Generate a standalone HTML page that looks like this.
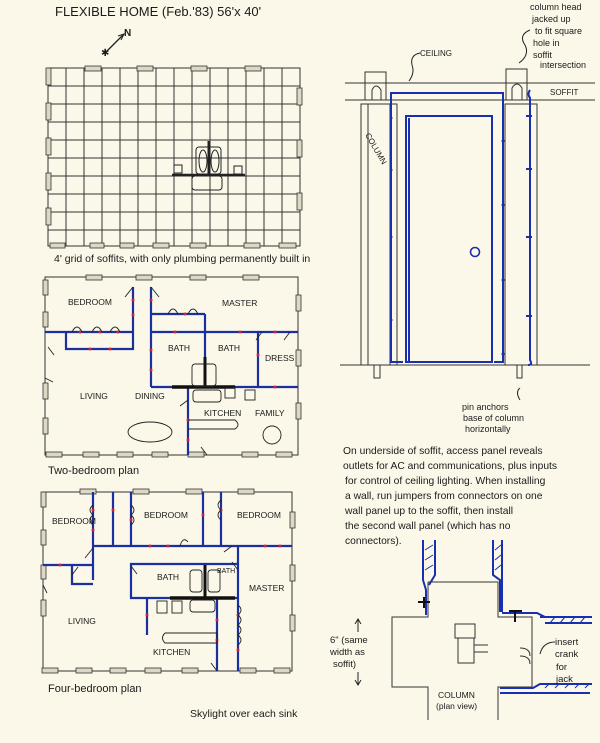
<!DOCTYPE html>
<html><head><meta charset="utf-8"><style>
html,body{margin:0;padding:0;background:#fbf8e9}
svg{display:block}
text{font-family:"Liberation Sans",sans-serif;fill:#1a1a1a}
</style></head><body>
<svg width="600" height="743" viewBox="0 0 600 743" xmlns="http://www.w3.org/2000/svg">
<rect width="600" height="743" fill="#fbf8e9"/>
<text x="55" y="16" font-size="13">FLEXIBLE HOME (Feb.'83) 56'x 40'</text>
<!-- north arrow -->
<line x1="106" y1="52" x2="123" y2="35" stroke="#222" stroke-width="1.3"/>
<path d="M118 36 L124 34 L121 40" fill="none" stroke="#222"/>
<text x="124" y="36" font-size="10" font-weight="bold">N</text>
<text x="101" y="56" font-size="10">✱</text>

<!-- grid plan -->
<g stroke="#333" stroke-width="1" fill="none">
<rect x="48" y="68" width="252" height="178"/>
<path d="M66 68V246M84 68V246M102 68V246M120 68V246M138 68V246M156 68V246M174 68V246M192 68V246M210 68V246M228 68V246M246 68V246M264 68V246M282 68V246"/>
<path d="M48 86H300M48 104H300M48 122H300M48 140H300M48 158H300M48 176H300M48 194H300M48 212H300M48 230H300"/>
</g>
<g fill="#ddd8c4" stroke="#333" stroke-width="0.8">
<rect x="85" y="66" width="16" height="5"/><rect x="137" y="66" width="16" height="5"/><rect x="191" y="66" width="16" height="5"/><rect x="245" y="66" width="16" height="5"/>
<rect x="50" y="243" width="15" height="5"/><rect x="90" y="243" width="14" height="5"/><rect x="120" y="243" width="14" height="5"/><rect x="153" y="243" width="16" height="5"/><rect x="190" y="243" width="16" height="5"/><rect x="244" y="243" width="16" height="5"/><rect x="279" y="243" width="17" height="5"/>
<rect x="46" y="68" width="5" height="17"/><rect x="46" y="103" width="5" height="17"/><rect x="46" y="138" width="5" height="17"/><rect x="46" y="173" width="5" height="17"/><rect x="46" y="208" width="5" height="17"/>
<rect x="297" y="88" width="5" height="17"/><rect x="297" y="140" width="5" height="17"/><rect x="297" y="193" width="5" height="17"/>
</g>
<g stroke="#222" fill="none">
<rect x="196" y="147" width="25" height="27" rx="3"/>
<rect x="192" y="176" width="30" height="14" rx="3"/>
<ellipse cx="203" cy="161" rx="4" ry="11"/><ellipse cx="215" cy="161" rx="4" ry="11"/>
<line x1="172" y1="175" x2="245" y2="175" stroke-width="2.5"/>
<line x1="209" y1="141" x2="209" y2="175" stroke-width="3"/>
<rect x="174" y="165" width="8" height="8"/><rect x="234" y="166" width="8" height="8"/>
</g>
<text x="54" y="262" font-size="10.5">4' grid of soffits, with only plumbing permanently built in</text>

<!-- two bedroom plan -->
<g stroke="#333" fill="none" stroke-width="1">
<rect x="45" y="277" width="253" height="178"/>
</g>
<g fill="#ddd8c4" stroke="#333" stroke-width="0.8">
<rect x="86" y="275" width="16" height="5"/><rect x="136" y="275" width="16" height="5"/><rect x="190" y="275" width="16" height="5"/><rect x="243" y="275" width="16" height="5"/>
<rect x="46" y="452" width="16" height="5"/><rect x="83" y="452" width="16" height="5"/><rect x="117" y="452" width="16" height="5"/><rect x="152" y="452" width="16" height="5"/><rect x="188" y="452" width="16" height="5"/><rect x="242" y="452" width="16" height="5"/><rect x="276" y="452" width="16" height="5"/>
<rect x="43" y="280" width="5" height="15"/><rect x="43" y="312" width="5" height="15"/><rect x="43" y="383" width="5" height="16"/><rect x="43" y="418" width="5" height="16"/>
<rect x="296" y="295" width="5" height="16"/><rect x="296" y="350" width="5" height="16"/><rect x="296" y="403" width="5" height="16"/>
</g>
<g stroke="#1a2fa0" stroke-width="2.2" fill="none">
<path d="M45 332H133V287M66 332V349H133V332"/>
<path d="M151 287V387M151 314H205M151 332H298M205 314V387M258 332V387M151 387H298M188 387V455"/>
</g>
<line x1="172" y1="387" x2="235" y2="387" stroke="#111" stroke-width="3.5"/>
<line x1="205" y1="357" x2="205" y2="387" stroke="#111" stroke-width="3"/>
<g fill="#d22">
<circle cx="80" cy="332" r="1.5"/><circle cx="100" cy="332" r="1.5"/><circle cx="118" cy="332" r="1.5"/><circle cx="90" cy="349" r="1.5"/><circle cx="110" cy="349" r="1.5"/><circle cx="133" cy="300" r="1.5"/><circle cx="133" cy="315" r="1.5"/>
<circle cx="151" cy="300" r="1.5"/><circle cx="151" cy="350" r="1.5"/><circle cx="151" cy="370" r="1.5"/><circle cx="185" cy="314" r="1.5"/><circle cx="175" cy="332" r="1.5"/><circle cx="240" cy="332" r="1.5"/><circle cx="275" cy="332" r="1.5"/><circle cx="258" cy="355" r="1.5"/><circle cx="275" cy="387" r="1.5"/><circle cx="188" cy="420" r="1.5"/><circle cx="188" cy="440" r="1.5"/>
</g>
<g stroke="#222" fill="none" stroke-width="0.9">
<path d="M72 332q5-10 10 0M92 332q5-10 10 0M110 332q5-10 10 0M168 314q5-10 10 0M188 314q5-10 10 0"/>
<path d="M133 287l-8 10M151 287l8 10M262 332l-6 8M290 332l-6 8M48 347l6 8M45 378l8 4M188 400l-8 6M207 455l-6-8"/>
<rect x="192" y="364" width="24" height="22" rx="3"/><rect x="193" y="390" width="28" height="12" rx="3"/>
<rect x="225" y="388" width="10" height="10"/><rect x="245" y="390" width="10" height="10"/>
<ellipse cx="150" cy="432" rx="22" ry="10"/><path d="M188 420H235q6 5 0 9H188"/>
<circle cx="272" cy="435" r="9"/>
</g>
<g font-size="8.5">
<text x="68" y="305">BEDROOM</text><text x="222" y="306">MASTER</text><text x="168" y="351">BATH</text><text x="218" y="351">BATH</text><text x="265" y="361">DRESS</text>
<text x="80" y="399">LIVING</text><text x="135" y="399">DINING</text><text x="204" y="416">KITCHEN</text><text x="255" y="416">FAMILY</text>
</g>
<text x="48" y="474" font-size="11">Two-bedroom plan</text>

<!-- four bedroom plan -->
<rect x="43" y="492" width="249" height="179" stroke="#333" fill="none"/>
<g fill="#ddd8c4" stroke="#333" stroke-width="0.8">
<rect x="80" y="489" width="16" height="5"/><rect x="133" y="489" width="16" height="5"/><rect x="186" y="489" width="16" height="5"/><rect x="238" y="489" width="16" height="5"/>
<rect x="42" y="668" width="16" height="5"/><rect x="76" y="668" width="16" height="5"/><rect x="110" y="668" width="16" height="5"/><rect x="145" y="668" width="16" height="5"/><rect x="182" y="668" width="16" height="5"/><rect x="240" y="668" width="16" height="5"/><rect x="274" y="668" width="16" height="5"/>
<rect x="41" y="492" width="5" height="15"/><rect x="41" y="530" width="5" height="15"/><rect x="41" y="565" width="5" height="14"/><rect x="41" y="600" width="5" height="16"/>
<rect x="290" y="512" width="5" height="16"/><rect x="290" y="565" width="5" height="16"/><rect x="290" y="615" width="5" height="16"/>
</g>
<g stroke="#1a2fa0" stroke-width="2.2" fill="none">
<path d="M93 546H292M93 492V580M43 565H93M72 565V584H93"/>
<path d="M113 492V546M131 492V546M203 492V546M221 492V546"/>
<path d="M131 564H238V598H131ZM147 598V635M217 598V671M238 546V671"/>
</g>
<line x1="170" y1="598" x2="235" y2="598" stroke="#111" stroke-width="3.5"/>
<line x1="205" y1="565" x2="205" y2="598" stroke="#111" stroke-width="3"/>
<g fill="#d22">
<circle cx="93" cy="510" r="1.5"/><circle cx="93" cy="530" r="1.5"/><circle cx="113" cy="510" r="1.5"/><circle cx="131" cy="520" r="1.5"/><circle cx="203" cy="515" r="1.5"/><circle cx="221" cy="510" r="1.5"/>
<circle cx="150" cy="546" r="1.5"/><circle cx="168" cy="546" r="1.5"/><circle cx="265" cy="546" r="1.5"/><circle cx="280" cy="546" r="1.5"/><circle cx="60" cy="565" r="1.5"/><circle cx="147" cy="615" r="1.5"/><circle cx="217" cy="620" r="1.5"/><circle cx="217" cy="640" r="1.5"/><circle cx="238" cy="615" r="1.5"/><circle cx="238" cy="650" r="1.5"/>
</g>
<g stroke="#222" fill="none" stroke-width="0.9">
<path d="M93 505q-6 5 0 10q-6 5 0 10M131 505q6 5 0 10q6 5 0 10M221 500q-6 5 0 10q-6 5 0 10M238 605q6 5 0 10q6 5 0 10q6 5 0 10q6 5 0 10M93 548l-8 10M72 575l6-8M131 566l6 8M238 570l-6-8M180 546q3-10 8-4M217 671l-6-8M232 546l-8 6M43 585l4 8"/>
<rect x="190" y="570" width="12" height="22" rx="3"/><rect x="208" y="570" width="12" height="22" rx="3"/>
<rect x="190" y="600" width="25" height="12" rx="3"/><rect x="157" y="601" width="10" height="12"/><rect x="172" y="601" width="10" height="12"/>
<path d="M165 633H217V643H165q-5-5 0-10"/>
</g>
<g font-size="8.5">
<text x="52" y="524">BEDROOM</text><text x="144" y="518">BEDROOM</text><text x="237" y="518">BEDROOM</text><text x="157" y="580">BATH</text><text x="217" y="573" font-size="7">BATH</text><text x="249" y="591">MASTER</text>
<text x="68" y="624">LIVING</text><text x="153" y="655">KITCHEN</text>
</g>
<text x="48" y="692" font-size="11">Four-bedroom plan</text>
<text x="190" y="717" font-size="10.5">Skylight over each sink</text>

<!-- elevation -->
<g stroke="#333" fill="none" stroke-width="1">
<path d="M345 83H595M345 100H595M340 365H590"/>
<path d="M365 100V72H386V100M506 100V69H527V100"/>
<path d="M372 100V90q4-8 9 0V100M512 100V88q5-8 10 0V100"/>
<rect x="361" y="104" width="36" height="261"/><rect x="368" y="104" width="22" height="261"/>
<rect x="505" y="104" width="32" height="261"/>
<path d="M374 365V378H380V365M517 365V378H522V365"/>
</g>
<g stroke="#1830b0" stroke-width="2" fill="none">
<path d="M390 93H503V362H494M391 93V362H403"/>
<path d="M405 116H492V362H406V116M409 118V362"/>
<path d="M530 90q-3 4 0 8V360q3 5 -2 5"/>
</g>
<circle cx="475" cy="252" r="4.5" stroke="#1830b0" stroke-width="1.6" fill="none"/>
<g fill="#1830b0"><circle cx="391" cy="118" r="1.5"/><circle cx="391" cy="170" r="1.5"/><circle cx="391" cy="237" r="1.5"/><circle cx="391" cy="320" r="1.5"/><circle cx="503" cy="141" r="1.5"/><circle cx="503" cy="205" r="1.5"/><circle cx="503" cy="280" r="1.5"/><circle cx="503" cy="354" r="1.5"/>
<rect x="526" y="115" width="6" height="2"/><rect x="526" y="168" width="6" height="2"/><rect x="526" y="236" width="6" height="2"/><rect x="526" y="315" width="6" height="2"/></g>
<path d="M420 53q-10 2-8 12q3 8-3 16" stroke="#222" fill="none"/>
<text x="420" y="56" font-size="8">CEILING</text>
<text x="550" y="95" font-size="8">SOFFIT</text>
<g font-size="9"><text x="530" y="10">column head</text><text x="532" y="22">jacked up</text><text x="535" y="34">to fit square</text><text x="533" y="46">hole in</text><text x="533" y="58">soffit</text><text x="540" y="68">intersection</text></g>
<path d="M530 30q-12 5-5 15q5 10-6 18" stroke="#222" fill="none"/>
<text x="365" y="135" font-size="8" transform="rotate(60 365 135)">COLUMN</text>
<g font-size="9"><text x="462" y="410">pin anchors</text><text x="463" y="421">base of column</text><text x="465" y="432">horizontally</text></g>
<path d="M520 400q-5-8 0-12" stroke="#222" fill="none"/>

<g font-size="10.3">
<text x="343" y="454">On underside of soffit, access panel reveals</text>
<text x="343" y="469">outlets for AC and communications, plus inputs</text>
<text x="345" y="484">for control of ceiling lighting.  When installing</text>
<text x="345" y="499">a wall, run jumpers from connectors on one</text>
<text x="345" y="514">wall panel up to the soffit, then install</text>
<text x="345" y="529">the second wall panel (which has no</text>
<text x="345" y="544">connectors).</text>
</g>

<!-- plan detail -->
<g stroke="#333" fill="none" stroke-width="1">
<path d="M428 582H498V617H532V687H498V720M428 720V687H392V617H428V582"/>
<rect x="455" y="624" width="20" height="14"/><rect x="458" y="638" width="16" height="25"/>
<path d="M474 645H488M474 652H488M520 648q10 0 10 8M520 656q10 0 10 8"/>
</g>
<g stroke="#1830b0" stroke-width="2" fill="none">
<path d="M423 540V580L426 590V615M435 540V575L429 585"/>
<path d="M493 540V575L500 580V612M502 540V612"/>
<path d="M502 613H537L545 617H592M540 617H592M545 623H592M500 693H590M500 688H533L540 684H592"/>
</g>
<g stroke="#1830b0" stroke-width="1"><path d="M425 550l8-5M425 560l8-5M425 570l8-5M495 550l6-5M495 560l6-5M495 570l6-5M550 623l5-6M560 623l5-6M570 623l5-6M580 623l5-6M545 688l4-4M555 688l4-4M565 688l4-4M575 688l4-4M585 688l4-4"/></g>
<path d="M418 602H430M424 597V608M515 611V622M509 611H522" stroke="#111" stroke-width="2"/>
<g font-size="9.5"><text x="330" y="643">6" (same</text><text x="330" y="655">width as</text><text x="333" y="667">soffit)</text></g>
<path d="M358 620V632M355 624l3-5 3 5M358 672V684M355 680l3 5 3-5" stroke="#222" fill="none"/>
<g font-size="9.5"><text x="555" y="645">insert</text><text x="555" y="657">crank</text><text x="556" y="670">for</text><text x="556" y="682">jack</text></g>
<path d="M555 642q-12 0-15 12" stroke="#222" fill="none"/>
<text x="438" y="698" font-size="8.5">COLUMN</text>
<text x="436" y="709" font-size="8.5">(plan view)</text>
</svg>
</body></html>
